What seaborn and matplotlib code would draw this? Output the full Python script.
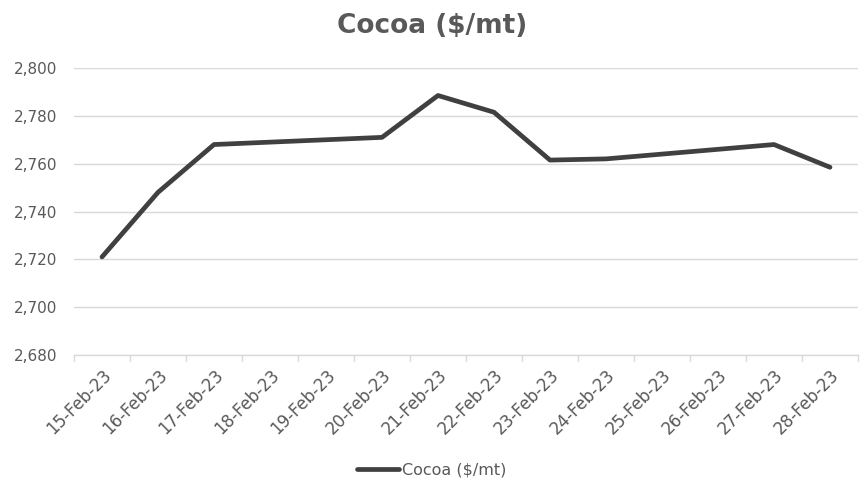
import matplotlib
matplotlib.use("Agg")
import matplotlib.pyplot as plt
import seaborn as sns
import pandas as pd
import numpy as np

dates = ["15-Feb-23", "16-Feb-23", "17-Feb-23", "18-Feb-23", "19-Feb-23",
         "20-Feb-23", "21-Feb-23", "22-Feb-23", "23-Feb-23", "24-Feb-23",
         "25-Feb-23", "26-Feb-23", "27-Feb-23", "28-Feb-23"]
cocoa = [2721, 2748, 2768, 2769, 2770, 2771, 2788.5, 2781.5, 2761.5, 2762,
         2764, 2766, 2768, 2758.5]
y_ticks = [2680, 2700, 2720, 2740, 2760, 2780, 2800]

sns.set_theme(style="white")
plt.rcParams["font.family"] = ["DejaVu Sans"]

df = pd.DataFrame({"date": dates, "Cocoa ($/mt)": cocoa})
df["pos"] = np.arange(len(dates))

fig = plt.figure(figsize=(8.64, 4.90), dpi=100)
ax = fig.add_axes([74 / 864, 1 - 355 / 490, 784 / 864, 287 / 490])

sns.lineplot(data=df, x="pos", y="Cocoa ($/mt)", ax=ax, color="#404040",
             linewidth=3.4, legend=False)

text_color = "#595959"
grid_color = "#d9d9d9"

ax.set_xlim(-0.5, len(dates) - 0.5)
ax.set_ylim(y_ticks[0], y_ticks[-1])
ax.set_yticks(y_ticks)
ax.set_yticklabels([f"{v:,}" for v in y_ticks], color=text_color, fontsize=11)
ax.set_xticks(np.arange(len(dates)))
ax.set_xticklabels(dates, rotation=45, ha="right", rotation_mode="anchor",
                   color=text_color, fontsize=12)
for lbl in ax.get_xticklabels():
    lbl.set_x(lbl.get_position()[0])
ax.tick_params(axis="x", length=0, pad=8)
ax.tick_params(axis="y", length=0, pad=12)

# category boundary ticks on the x axis
for b in np.arange(-0.5, len(dates), 1.0):
    ax.plot([b, b], [0, -0.02], transform=ax.get_xaxis_transform(),
            color=grid_color, linewidth=1, clip_on=False)

ax.grid(axis="y", color=grid_color, linewidth=1)
ax.set_axisbelow(True)
for side in ["top", "right", "left"]:
    ax.spines[side].set_visible(False)
ax.spines["bottom"].set_color(grid_color)
ax.spines["bottom"].set_linewidth(1)
ax.set_xlabel("")
ax.set_ylabel("")

fig.suptitle("Cocoa ($/mt)", x=0.5, y=1 - 26 / 490, va="center",
             fontsize=19, fontweight="bold", color=text_color)

handles = [plt.Line2D([], [], color="#404040", linewidth=3.4)]
fig.legend(handles, ["Cocoa ($/mt)"], loc="center", bbox_to_anchor=(0.5, 1 - 470 / 490),
           frameon=False, fontsize=11.5, labelcolor=text_color,
           handlelength=2.6, handletextpad=0.2)

fig.savefig("out.png", dpi=100, facecolor="white")
